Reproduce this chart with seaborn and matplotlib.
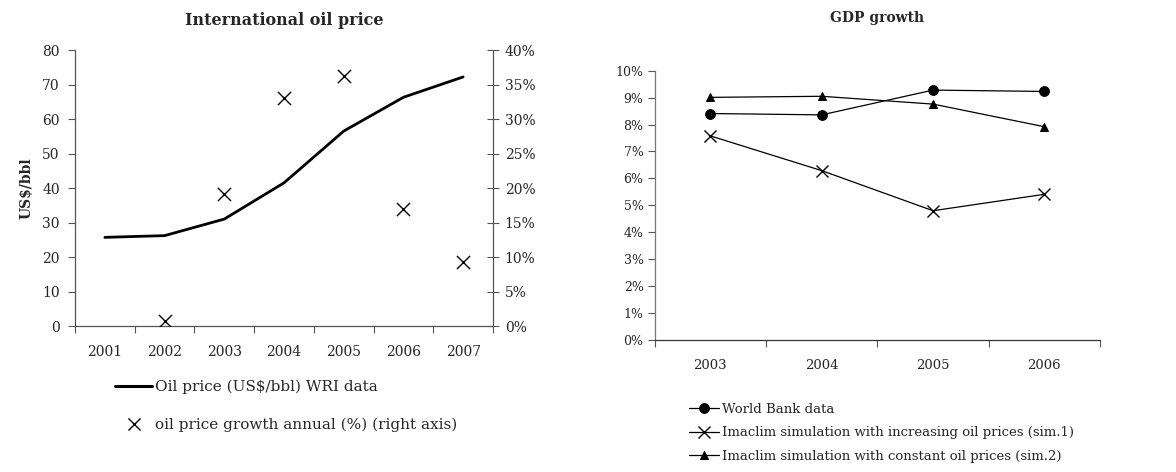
import matplotlib
matplotlib.use("Agg")
import matplotlib.pyplot as plt
import seaborn as sns
import numpy as np
from matplotlib.ticker import FixedLocator, FuncFormatter, NullFormatter
from matplotlib.lines import Line2D

# ---- data ----
oil_years = [2001, 2002, 2003, 2004, 2005, 2006, 2007]
oil_price = [25.7, 26.2, 31.0, 41.5, 56.5, 66.3, 72.2]
growth_years = [2002, 2003, 2004, 2005, 2006, 2007]
oil_growth = [0.7, 19.2, 33.0, 36.2, 17.0, 9.3]

gdp_years = [2003, 2004, 2005, 2006]
gdp_worldbank = [8.41, 8.36, 9.28, 9.23]
gdp_sim1 = [7.58, 6.29, 4.80, 5.41]
gdp_sim2 = [9.01, 9.05, 8.76, 7.92]

oil_label = "Oil price (US$/bbl) WRI data"
growth_label = "oil price growth annual (%) (right axis)"
gdp_labels = ["World Bank data",
              "Imaclim simulation with increasing oil prices (sim.1)",
              "Imaclim simulation with constant oil prices (sim.2)"]

sns.set_theme(style="white")
plt.rcParams['font.family'] = ['DejaVu Serif']
plt.rcParams['axes.unicode_minus'] = False

fig = plt.figure(figsize=(11.76, 4.72), dpi=100)

# ---------- left chart ----------
ax = fig.add_axes([0.0638, 0.3093, 0.3554, 0.5847])
sns.lineplot(x=oil_years, y=oil_price, ax=ax, color='black', linewidth=2.0)
ax.set_xlim(2000.5, 2007.5)
ax.set_ylim(0, 80)
ax.set_yticks(np.arange(0, 81, 10))
ax.tick_params(axis='y', direction='out', length=5, width=0.8, color='#555555',
               labelsize=10, pad=6, left=True)
ax.xaxis.set_major_locator(FixedLocator(np.arange(2000.5, 2007.6, 1)))
ax.xaxis.set_major_formatter(NullFormatter())
ax.xaxis.set_minor_locator(FixedLocator(oil_years))
ax.xaxis.set_minor_formatter(FuncFormatter(lambda v, p: f"{int(round(v))}"))
ax.tick_params(axis='x', which='major', direction='out', length=5, width=0.8,
               color='#555555', bottom=True)
ax.tick_params(axis='x', which='minor', length=0, labelsize=10, pad=14)
for s in ['top', 'right']:
    ax.spines[s].set_visible(False)
for s in ['left', 'bottom']:
    ax.spines[s].set_color('#555555')
    ax.spines[s].set_linewidth(0.9)
ax.set_ylabel("US$/bbl", fontsize=10, fontweight='bold', labelpad=6)
ax.set_xlabel("")
ax.set_title("International oil price", fontsize=11.5, fontweight='bold', pad=18)

ax2 = ax.twinx()
sns.scatterplot(x=growth_years, y=oil_growth, ax=ax2, marker='x', s=90,
                color='black', linewidth=1.0)
ax2.set_ylim(0, 40)
ax2.set_yticks(np.arange(0, 41, 5))
ax2.yaxis.set_major_formatter(FuncFormatter(lambda v, p: f"{int(v)}%"))
ax2.tick_params(axis='y', direction='inout', length=9, width=0.8, color='#555555',
                labelsize=10, pad=4, right=True)
ax2.set_xlim(2000.5, 2007.5)
ax2.set_ylabel("")
for s in ['top', 'left', 'bottom']:
    ax2.spines[s].set_visible(False)
ax2.spines['right'].set_color('#555555')
ax2.spines['right'].set_linewidth(0.9)

h1 = Line2D([], [], color='black', linewidth=2.2)
h2 = Line2D([], [], color='black', linestyle='none', marker='x', markersize=8)
fig.legend([h1, h2], [oil_label, growth_label], loc='upper left',
           bbox_to_anchor=(0.098, 0.196), frameon=False, fontsize=11,
           handlelength=2.4, handletextpad=0.2, labelspacing=1.55,
           borderaxespad=0, borderpad=0)

# ---------- right chart ----------
bx = fig.add_axes([0.5567, 0.2797, 0.3787, 0.5705])
sns.lineplot(x=gdp_years, y=gdp_worldbank, ax=bx, color='black', linewidth=0.9,
             marker='o', markersize=7, markeredgecolor='black', label=gdp_labels[0])
sns.lineplot(x=gdp_years, y=gdp_sim1, ax=bx, color='black', linewidth=0.9,
             marker='x', markersize=8, markeredgewidth=1.0, markeredgecolor='black',
             label=gdp_labels[1])
sns.lineplot(x=gdp_years, y=gdp_sim2, ax=bx, color='black', linewidth=0.9,
             marker='^', markersize=6, markeredgecolor='black', label=gdp_labels[2])
bx.set_xlim(2002.5, 2006.5)
bx.set_ylim(0, 10)
bx.set_yticks(np.arange(0, 11, 1))
bx.yaxis.set_major_formatter(FuncFormatter(lambda v, p: f"{int(v)}%"))
bx.tick_params(axis='y', direction='out', length=5, width=0.8, color='#555555',
               labelsize=9, pad=3, left=True)
bx.xaxis.set_major_locator(FixedLocator(np.arange(2002.5, 2006.6, 1)))
bx.xaxis.set_major_formatter(NullFormatter())
bx.xaxis.set_minor_locator(FixedLocator(gdp_years))
bx.xaxis.set_minor_formatter(FuncFormatter(lambda v, p: f"{int(round(v))}"))
bx.tick_params(axis='x', which='major', direction='out', length=5, width=0.8,
               color='#555555', bottom=True)
bx.tick_params(axis='x', which='minor', length=0, labelsize=9.5, pad=14)
for s in ['top', 'right']:
    bx.spines[s].set_visible(False)
bx.spines['left'].set_color('#777777')
bx.spines['left'].set_linewidth(0.9)
bx.spines['bottom'].set_color('#333333')
bx.spines['bottom'].set_linewidth(0.9)
bx.set_xlabel("")
bx.set_ylabel("")
bx.set_title("GDP growth", fontsize=10, fontweight='bold', pad=35)
bx.get_legend().remove()
handles, labels = bx.get_legend_handles_labels()
fig.legend(handles, labels, loc='upper left', bbox_to_anchor=(0.5855, 0.147),
           frameon=False, fontsize=9.5, handlelength=2.3, handletextpad=0.2,
           labelspacing=0.8, borderaxespad=0, borderpad=0)

fig.savefig("out.png", dpi=100)
